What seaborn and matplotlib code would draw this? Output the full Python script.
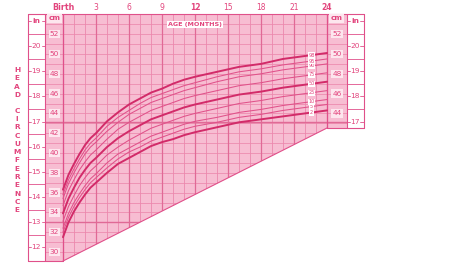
import numpy as np
import pandas as pd
import matplotlib
matplotlib.use("Agg")
import matplotlib.pyplot as plt
import seaborn as sns
from matplotlib.patches import Polygon
from matplotlib.collections import LineCollection

# ---------------- data ----------------
months = [0, 0.5, 1, 1.5, 2, 2.5, 3, 4, 5, 6, 7, 8, 9, 10, 11, 12, 14, 16, 18, 20, 22, 24]
p2 = [31.5, 33.0, 34.1, 35.0, 35.8, 36.5, 37.0, 38.0, 38.9, 39.5, 40.1, 40.7, 41.1, 41.4, 41.8, 42.1, 42.6, 43.1, 43.4, 43.7, 44.0, 44.3]
p5 = [32.0, 33.5, 34.6, 35.5, 36.3, 37.0, 37.5, 38.5, 39.4, 40.1, 40.6, 41.2, 41.6, 42.0, 42.4, 42.7, 43.1, 43.6, 43.9, 44.3, 44.6, 44.9]
p10 = [32.4, 33.9, 35.0, 35.9, 36.7, 37.4, 37.9, 39.0, 39.9, 40.5, 41.1, 41.7, 42.1, 42.5, 42.9, 43.2, 43.6, 44.1, 44.4, 44.8, 45.1, 45.4]
p25 = [33.1, 34.6, 35.7, 36.7, 37.5, 38.2, 38.7, 39.8, 40.6, 41.3, 41.9, 42.5, 42.9, 43.3, 43.7, 44.0, 44.5, 45.0, 45.3, 45.7, 46.0, 46.3]
p50 = [33.9, 35.4, 36.5, 37.5, 38.3, 39.0, 39.5, 40.6, 41.5, 42.2, 42.8, 43.4, 43.8, 44.2, 44.6, 44.9, 45.4, 45.9, 46.2, 46.6, 46.9, 47.2]
p75 = [34.7, 36.2, 37.3, 38.3, 39.1, 39.8, 40.3, 41.4, 42.4, 43.1, 43.7, 44.3, 44.7, 45.1, 45.5, 45.8, 46.3, 46.8, 47.1, 47.5, 47.8, 48.1]
p90 = [35.4, 36.9, 38.0, 39.0, 39.9, 40.6, 41.1, 42.2, 43.1, 43.9, 44.5, 45.1, 45.5, 45.9, 46.3, 46.6, 47.2, 47.7, 48.0, 48.4, 48.7, 49.0]
p95 = [35.8, 37.3, 38.4, 39.4, 40.3, 41.0, 41.5, 42.7, 43.6, 44.3, 45.0, 45.6, 46.0, 46.4, 46.8, 47.1, 47.7, 48.2, 48.5, 48.9, 49.2, 49.5]
p98 = [36.3, 37.8, 38.9, 39.9, 40.8, 41.5, 42.0, 43.2, 44.1, 44.9, 45.5, 46.1, 46.5, 47.0, 47.4, 47.7, 48.2, 48.7, 49.0, 49.5, 49.8, 50.1]
percentile_labels = ["2", "5", "10", "25", "50", "75", "90", "95", "98"]
series = [p2, p5, p10, p25, p50, p75, p90, p95, p98]
bold_set = {"2", "50", "98"}

month_ticks = [0, 3, 6, 9, 12, 15, 18, 21, 24]
month_tick_labels = ["Birth", "3", "6", "9", "12", "15", "18", "21", "24"]
bold_month_labels = {"Birth", "12", "24"}
cm_left = [30, 32, 34, 36, 38, 40, 42, 44, 46, 48, 50, 52]
cm_right = [44, 46, 48, 50, 52]
in_left = [12, 13, 14, 15, 16, 17, 18, 19, 20]
in_right = [17, 18, 19, 20]
y_title = "HEAD CIRCUMFERENCE"
x_title = "AGE (MONTHS)"

# ---------------- style ----------------
sns.set_style("white")
plt.rcParams["font.family"] = ["DejaVu Sans"]
TXT = "#e2457d"
CURVE = "#d22b69"
CURVE_THIN = "#e0528a"
BG = "#f9c4d7"
LIGHT = "#f3a8c3"
MED = "#ec88ad"
DARK = "#e06a96"
FRAME = "#e0508a"

fig = plt.figure(figsize=(4.74, 2.66), dpi=100)
ax = fig.add_axes([0, 0, 1, 1])

# pixel-to-data helpers for layout (11 px per month, 9.9 px per cm)
def X(px):
    return (px - 63) / 11.0

def Y(py):
    return 30 + (252 - py) / 9.9

ax.set_xlim(X(0), X(474))
ax.set_ylim(Y(266), Y(0))
ax.axis("off")

top = Y(14)
ybot_left = Y(261)
ybot_right = Y(128)
xl_in, xl_cm, xr_cm, xr_in, xr_end = X(28), X(45), X(327), X(347), X(364)

# pink region (cm columns + chart area with diagonal bottom)
verts = [(xl_cm, top), (xr_in, top), (xr_in, ybot_right), (24, ybot_right),
         (0, ybot_left), (xl_cm, ybot_left)]
region = Polygon(verts, closed=True, facecolor=BG, edgecolor="none", zorder=0)
ax.add_patch(region)

# grid
segs_light = [[(xl_cm, v), (xr_in, v)] for v in np.arange(28.2, 54.0, 0.2)]
segs_med = [[(xl_cm, v), (xr_in, v)] for v in np.arange(29, 54.1, 1.0)]
segs_vm = [[(m, ybot_left), (m, top)] for m in range(0, 25) if m % 3]
segs_vd = [[(m, ybot_left), (m, top)] for m in range(0, 25, 3)]
for segs, col, lw in [(segs_light, LIGHT, 0.35), (segs_med, MED, 0.55),
                      (segs_vm, MED, 0.6), (segs_vd, DARK, 0.9)]:
    lc = LineCollection(segs, colors=col, linewidths=lw, zorder=1)
    ax.add_collection(lc)
    lc.set_clip_path(region)

# inch marker lines (13 in, 17 in)
for inch in [13, 17]:
    lc = LineCollection([[(xl_cm, inch * 2.54), (xr_in, inch * 2.54)]],
                        colors=DARK, linewidths=1.0, zorder=1.5)
    ax.add_collection(lc)
    lc.set_clip_path(region)

# frame lines
fk = dict(color=FRAME, lw=0.8, zorder=3)
ax.plot([xl_in, xr_end], [top, top], **fk)
ax.plot([xl_in, xl_in], [top, ybot_left], **fk)
ax.plot([xl_cm, xl_cm], [top, ybot_left], **fk)
ax.plot([0, 0], [top, ybot_left], **fk)
ax.plot([xl_in, 0], [ybot_left, ybot_left], **fk)
ax.plot([0, 24], [ybot_left, ybot_right], **fk)
ax.plot([24, 24], [top, ybot_right], **fk)
ax.plot([xr_in, xr_in], [top, ybot_right], **fk)
ax.plot([xr_end, xr_end], [top, ybot_right], **fk)
ax.plot([24, xr_end], [ybot_right, ybot_right], **fk)

# inch columns: half-inch lines, inch ticks
tk = dict(color=FRAME, lw=0.6, zorder=3)
for h in np.arange(12.5, 21, 1.0):
    ax.plot([xl_in, xl_cm], [h * 2.54, h * 2.54], **tk)
for h in np.arange(17.5, 21, 1.0):
    ax.plot([xr_in, xr_end], [h * 2.54, h * 2.54], **tk)
for i in in_left + [21]:
    yv = i * 2.54
    ax.plot([xl_in, X(31)], [yv, yv], **tk)
    ax.plot([X(41.5), xl_cm], [yv, yv], **tk)
    ax.text(X(36.3), yv, "in" if i == 21 else str(i), color=TXT, fontsize=5.3,
            ha="center", va="center", zorder=4,
            fontweight="bold" if i == 21 else "normal")
for i in in_right + [21]:
    yv = i * 2.54
    ax.plot([xr_in, X(350)], [yv, yv], **tk)
    ax.plot([X(360.5), xr_end], [yv, yv], **tk)
    ax.text(X(355.3), yv, "in" if i == 21 else str(i), color=TXT, fontsize=5.3,
            ha="center", va="center", zorder=4,
            fontweight="bold" if i == 21 else "normal")

# cm labels
box = dict(boxstyle="square,pad=0.15", facecolor="#fde6ee", edgecolor="none")
for c in cm_left:
    ax.text(X(54.5), c, str(c), color=TXT, fontsize=5.3, ha="center", va="center",
            bbox=box, zorder=4)
for c in cm_right:
    ax.text(X(337), c, str(c), color=TXT, fontsize=5.3, ha="center", va="center",
            bbox=box, zorder=4)
ax.text(X(54.5), Y(18.5), "cm", color=TXT, fontsize=5.3, fontweight="bold",
        ha="center", va="center", bbox=box, zorder=4)
ax.text(X(336.5), Y(18.5), "cm", color=TXT, fontsize=5.3, fontweight="bold",
        ha="center", va="center", bbox=box, zorder=4)

# top month labels
for m, lab in zip(month_ticks, month_tick_labels):
    ax.text(m, Y(8), lab, color=TXT, fontsize=5.8 if lab == "Birth" else 5.5,
            fontweight="bold" if lab in bold_month_labels else "normal",
            ha="center", va="center", zorder=4)

ax.text(12, Y(24.5), x_title, color=TXT, fontsize=4.6, fontweight="bold",
        ha="center", va="center", zorder=4,
        bbox=dict(boxstyle="square,pad=0.2", facecolor="white", edgecolor="none"))

# vertical title letters
head, circ = y_title.split(" ")
for k, ch in enumerate(head):
    ax.text(X(17), Y(70 + 8.3 * k), ch, color=TXT, fontsize=5.3, fontweight="bold",
            ha="center", va="center")
for k, ch in enumerate(circ):
    ax.text(X(17), Y(111 + 8.25 * k), ch, color=TXT, fontsize=5.3, fontweight="bold",
            ha="center", va="center")

# percentile curves
rows = []
for lab, vals in zip(percentile_labels, series):
    for m, v in zip(months, vals):
        rows.append({"month": m, "cm": v, "pct": lab})
df = pd.DataFrame(rows)
for lab in percentile_labels:
    sub = df[df["pct"] == lab]
    bold = lab in bold_set
    sns.lineplot(data=sub, x="month", y="cm", ax=ax, color=CURVE if bold else CURVE_THIN,
                 lw=1.4 if bold else 0.75, zorder=5, legend=False)
ax.axis("off")
ax.set_xlim(X(0), X(474))
ax.set_ylim(Y(266), Y(0))

# percentile labels near right end
for lab, vals in zip(percentile_labels, series):
    yv = np.interp(22.6, months, vals)
    ax.text(22.6, yv, lab, color=TXT, fontsize=3.6, ha="center", va="center", zorder=6,
            bbox=dict(boxstyle="square,pad=0.12", facecolor="white", edgecolor="none"))

fig.savefig("out.png", dpi=100, facecolor="white")
